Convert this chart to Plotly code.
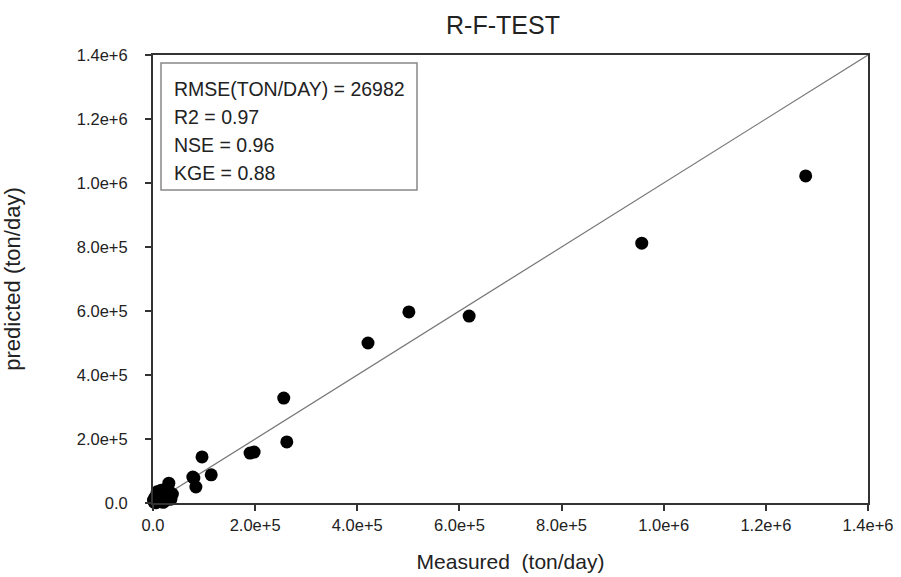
import plotly.graph_objects as go

# Data
measured = [1278000, 957000, 619000, 501000, 421000, 256000, 262000, 190000, 198000,
            96000, 114000, 78000, 80000, 84000, 31000,
            2000, 6000, 9000, 14000, 4000, 12000, 18000, 22000, 25000, 8000,
            28000, 16000, 32000, 20000, 35000, 1000, 26000, 38000]
predicted = [1022000, 812000, 584000, 597000, 500000, 328000, 191000, 156000, 159000,
             144000, 88000, 81000, 78000, 50000, 62000,
             3000, 1000, 12000, 5000, 18000, 25000, 14000, 30000, 8000, 35000,
             20000, 40000, 35000, 2000, 12000, 9000, 45000, 28000]

line_x = [0, 1400000]
line_y = [0, 1400000]

tick_vals = [0, 200000, 400000, 600000, 800000, 1000000, 1200000, 1400000]
tick_text = ["0.0", "2.0e+5", "4.0e+5", "6.0e+5", "8.0e+5", "1.0e+6", "1.2e+6", "1.4e+6"]

stats_lines = ["RMSE(TON/DAY) = 26982", "R2 = 0.97", "NSE = 0.96", "KGE = 0.88"]

FONT = "Liberation Sans, Arial, sans-serif"
W, H = 901, 577
L, R, T, B = 153, 33, 55, 74

fig = go.Figure()
fig.add_trace(go.Scatter(x=line_x, y=line_y, mode="lines",
                         line=dict(color="#777777", width=1.2), showlegend=False,
                         hoverinfo="skip"))
fig.add_trace(go.Scatter(x=measured, y=predicted, mode="markers",
                         marker=dict(color="black", size=13, line=dict(width=0)),
                         cliponaxis=False, showlegend=False))

axis_common = dict(
    range=[0, 1400000], tickvals=tick_vals, ticktext=tick_text,
    showgrid=False, zeroline=False, showline=True, mirror=True,
    linecolor="#333333", linewidth=2, ticks="outside", ticklen=6,
    tickwidth=1.5, tickcolor="#333333", automargin=False,
    tickfont=dict(family=FONT, size=16.5, color="#222222"),
)

fig.update_layout(
    width=W, height=H,
    margin=dict(l=L, r=R, t=T, b=B, autoexpand=False),
    paper_bgcolor="white", plot_bgcolor="white",
    title=dict(text="R-F-TEST", x=503 / W, xref="container", xanchor="center",
               y=1 - 25 / H, yref="container", yanchor="middle",
               font=dict(family=FONT, size=25, color="#222222")),
    xaxis=dict(**axis_common,
               title=dict(text="Measured\u00a0 (ton/day)", standoff=22,
                          font=dict(family=FONT, size=21, color="#222222"))),
    yaxis=dict(**axis_common, ticklabelstandoff=14,
               title=dict(text="predicted (ton/day)", standoff=52,
                          font=dict(family=FONT, size=22, color="#222222"))),
)

# stats box
pw, ph = W - L - R, H - T - B
def px2paper_x(px):
    return (px - L) / pw
def px2paper_y(py):
    return (H - B - py) / ph

fig.add_shape(type="rect", xref="paper", yref="paper",
              x0=px2paper_x(161), x1=px2paper_x(417),
              y0=px2paper_y(190), y1=px2paper_y(63),
              line=dict(color="#888888", width=1.5), fillcolor="white", layer="above")

for i, txt in enumerate(stats_lines):
    fig.add_annotation(xref="paper", yref="paper", x=px2paper_x(172),
                       y=px2paper_y(89 + 28 * i), text=txt, showarrow=False,
                       xanchor="left", yanchor="middle",
                       font=dict(family=FONT, size=19.5, color="#222222"))

fig.write_html("out.html")
